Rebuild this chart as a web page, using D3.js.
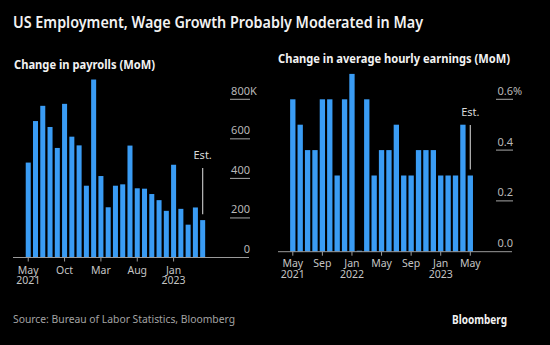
<!DOCTYPE html>
<html>
<head>
<meta charset="utf-8">
<script src="https://cdn.jsdelivr.net/npm/d3@7"></script>
<style>
  body { margin: 0; background: #000; }
  text { font-family: "Noto Sans", "Open Sans", sans-serif; }
</style>
</head>
<body>
<svg width="550" height="345"></svg>
<script>
// months May 2021 .. May 2023 (last one is the estimate)
var months = ["2021-05","2021-06","2021-07","2021-08","2021-09","2021-10","2021-11","2021-12",
              "2022-01","2022-02","2022-03","2022-04","2022-05","2022-06","2022-07","2022-08",
              "2022-09","2022-10","2022-11","2022-12","2023-01","2023-02","2023-03","2023-04","2023-05"];

// change in payrolls, thousands
var payrolls = [480, 690, 767, 660, 554, 777, 611, 567, 363, 900, 412, 254, 363,
                370, 566, 350, 348, 321, 290, 236, 469, 246, 166, 253, 189];

// change in average hourly earnings, %
var earnings = [0.6, 0.5, 0.4, 0.4, 0.6, 0.6, 0.3, 0.6, 0.7, 0.0, 0.6, 0.3, 0.4,
                0.4, 0.5, 0.3, 0.3, 0.4, 0.4, 0.4, 0.3, 0.3, 0.3, 0.5, 0.3];

var payTicks = [0, 200, 400, 600, 800];
var earnTicks = [0, 0.2, 0.4, 0.6];
var payTickMonths = ["2021-05","2021-10","2022-03","2022-08","2023-01"];
var earnTickMonths = ["2021-05","2021-09","2022-01","2022-05","2022-09","2023-01","2023-05"];

var svg = d3.select("svg");
var barColor = "#3a9cf4";
var monthName = d3.timeFormat("%b"), yearName = d3.timeFormat("%Y");
var parse = d3.timeParse("%Y-%m");

function fitText(sel, w) {
  if (w) sel.attr("textLength", w).attr("lengthAdjust", "spacingAndGlyphs");
  return sel;
}

svg.append("rect").attr("width", 550).attr("height", 345).attr("fill", "#000");

fitText(svg.append("text").attr("x", 13).attr("y", 28)
  .attr("fill", "#f2f2f2").attr("font-size", 16).attr("font-weight", 600)
  .text("US Employment, Wage Growth Probably Moderated in May"), 410);

function panel(opt) {
  var g = svg.append("g");
  var x = d3.scaleBand().domain(months).range(opt.xr)
    .paddingInner(opt.pad).paddingOuter(opt.pad / 2);
  var y = d3.scaleLinear().domain(opt.yd).range(opt.yr);

  fitText(g.append("text").attr("x", opt.titleX).attr("y", opt.titleY)
    .attr("fill", "#f2f2f2").attr("font-size", 11.5).attr("font-weight", 700)
    .text(opt.title), opt.titleW);

  // gridlines + labels on the right
  var gl = opt.gridX;
  opt.ticks.forEach(function(t, i) {
    if (t > 0) {
      g.append("line").attr("x1", gl[0]).attr("x2", gl[1])
        .attr("y1", y(t)).attr("y2", y(t))
        .attr("stroke", "#a6a6a6").attr("stroke-width", 1);
    }
    var ty = y(t) - 4.5;
    g.append("text").attr("x", gl[1]).attr("y", ty)
      .attr("text-anchor", "end").attr("fill", "#b8b8b8").attr("font-size", 11)
      .text(opt.fmt(t));
    if (i === opt.ticks.length - 1) {
      g.append("text").attr("x", gl[1]).attr("y", ty)
        .attr("fill", "#b8b8b8").attr("font-size", 11).text(opt.unit);
    }
  });

  g.selectAll("rect.bar").data(opt.values).enter().append("rect")
    .attr("class", "bar")
    .attr("x", function(d, i) { return x(months[i]); })
    .attr("width", x.bandwidth())
    .attr("y", function(d) { return Math.min(y(d), y(0) - 1); })
    .attr("height", function(d) { return Math.max(y(0) - y(d), 1); })
    .attr("fill", barColor);

  // baseline
  g.append("line").attr("x1", opt.baseX[0]).attr("x2", opt.baseX[1])
    .attr("y1", y(0)).attr("y2", y(0)).attr("stroke", "#9a9a9a").attr("stroke-width", 1);

  var ax = g.append("g").attr("transform", "translate(0," + y(0) + ")")
    .call(d3.axisBottom(x).tickValues(opt.tickMonths).tickSize(4).tickSizeOuter(0)
      .tickFormat(function(m) { return monthName(parse(m)); }));
  ax.select(".domain").remove();
  ax.selectAll(".tick line").attr("stroke", "#9a9a9a");
  ax.selectAll(".tick text").attr("fill", "#c4c4c4").attr("font-size", 10.5)
    .attr("font-family", "'Noto Sans', sans-serif").attr("y", opt.labelY).attr("dy", "0.71em")
    .each(function(m) {
      var mo = m.slice(5);
      if (m === months[0] || mo === "01") {
        d3.select(this).append("tspan").attr("x", 0).attr("dy", "1.0em").text(yearName(parse(m)));
      }
    });

  // estimate marker on last bar
  var last = months[months.length - 1];
  var cx = x(last) + x.bandwidth() / 2;
  g.append("text").attr("x", cx).attr("y", opt.estY).attr("text-anchor", "middle")
    .attr("fill", "#d9d9d9").attr("font-size", 11).text("Est.");
  g.append("line").attr("x1", cx).attr("x2", cx)
    .attr("y1", opt.estY + 9).attr("y2", y(opt.values[opt.values.length - 1]) - 6)
    .attr("stroke", "#bdbdbd").attr("stroke-width", 1.2);
}

panel({
  values: payrolls, ticks: payTicks, tickMonths: payTickMonths,
  xr: [24.6, 206.3], pad: 0.31, yd: [0, 800], yr: [257.5, 99.3],
  gridX: [230, 250], baseX: [13, 249], labelY: 9,
  fmt: function(t) { return t; }, unit: "K",
  title: "Change in payrolls (MoM)", titleX: 14, titleY: 69, titleW: 141,
  estY: 159
});

panel({
  values: earnings, ticks: earnTicks, tickMonths: earnTickMonths,
  xr: [289.1, 474.0], pad: 0.28, yd: [0, 0.6], yr: [251.7, 99.3],
  gridX: [496, 513], baseX: [278, 512], labelY: 8,
  fmt: d3.format(".1f"), unit: "%",
  title: "Change in average hourly earnings (MoM)", titleX: 278, titleY: 63, titleW: 232,
  estY: 116
});

fitText(svg.append("text").attr("x", 13).attr("y", 323)
  .attr("fill", "#a3a3a3").attr("font-size", 11)
  .text("Source: Bureau of Labor Statistics, Bloomberg"), 222);

fitText(svg.append("text").attr("x", 452).attr("y", 324)
  .attr("fill", "#f2f2f2").attr("font-size", 11.5).attr("font-weight", 700)
  .text("Bloomberg"), 55);
</script>
</body>
</html>
